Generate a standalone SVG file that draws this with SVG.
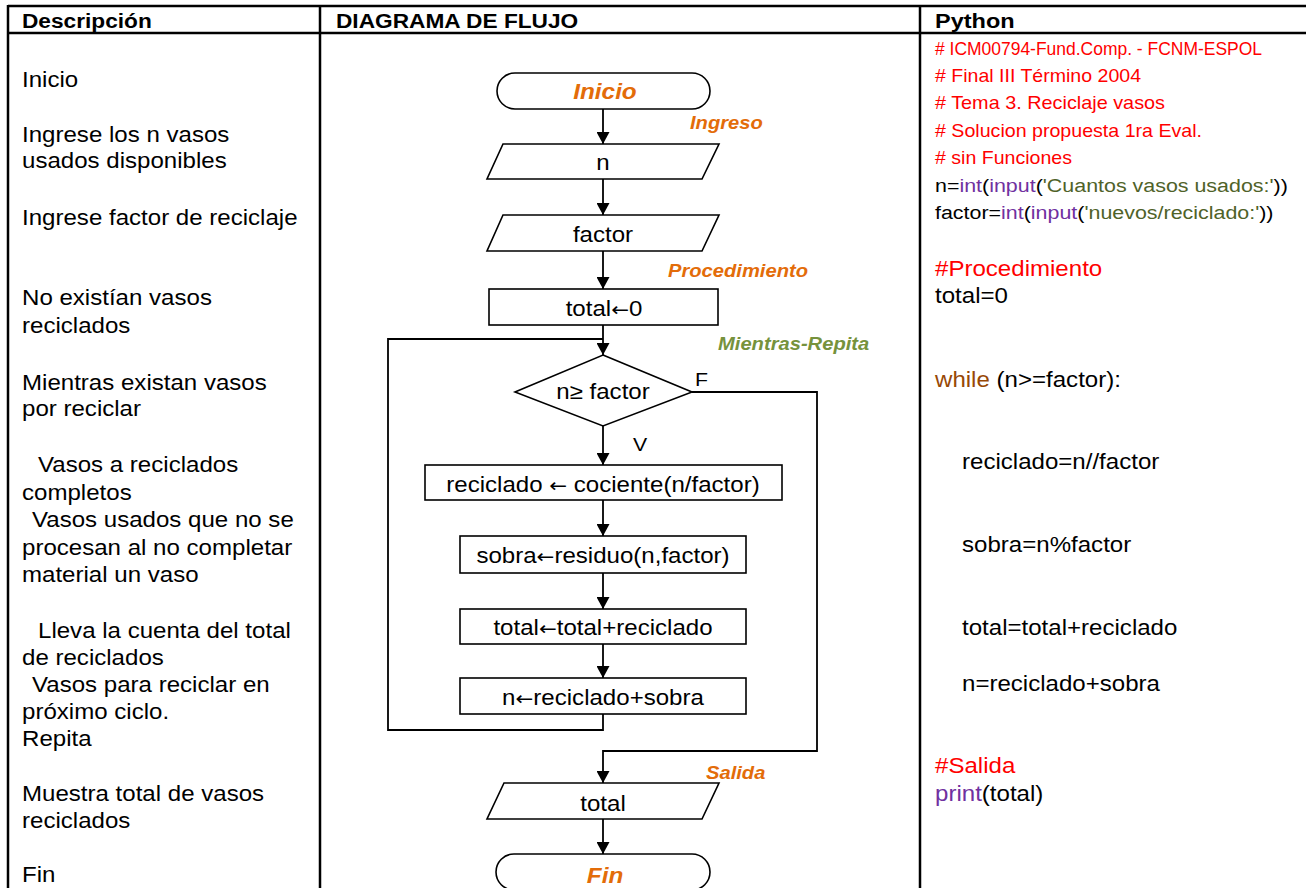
<svg xmlns="http://www.w3.org/2000/svg" width="1306" height="888" viewBox="0 0 1306 888">
<style>
text{font-family:"Liberation Sans",Arial,sans-serif;fill:#000}
.hd{font-size:21px;font-weight:bold}
.d{font-size:21.5px}
.c{font-size:21.5px}
.ar{font-family:"DejaVu Sans",sans-serif;font-size:19px}
.cm{font-size:18.6px;fill:#FF0000}
.cs{font-size:18.8px}
.py{font-size:21.5px}
.red{fill:#FF0000}
.pur{fill:#7030A0}
.grn{fill:#4F6228}
.brn{fill:#974806}
.or{font-weight:bold;font-style:italic;fill:#E36C09}
.lb{font-size:18px}
.gr{font-weight:bold;font-style:italic;fill:#76923C;font-size:18px}
.tl{font-size:22.5px}
.shape{fill:#fff;stroke:#000;stroke-width:1.6}
.conn{fill:none;stroke:#000;stroke-width:1.8}
.grid{stroke:#000;stroke-width:2.5;fill:none}
</style>
<defs>
<marker id="ah" markerUnits="userSpaceOnUse" markerWidth="13" markerHeight="13" refX="12" refY="6.5" orient="auto">
<path d="M0,0 L12,6.5 L0,13 z" fill="#000"/>
</marker>
</defs>
<rect x="0" y="0" width="1306" height="888" fill="#fff"/>

<g id="table">
<line class="grid" x1="8" y1="6" x2="1306" y2="6"/>
<line class="grid" x1="8" y1="33" x2="1306" y2="33"/>
<line class="grid" x1="8" y1="5" x2="8" y2="888"/>
<line class="grid" x1="320" y1="5" x2="320" y2="888"/>
<line class="grid" x1="920" y1="5" x2="920" y2="888"/>
<text class="hd" transform="matrix(1.08 0 0 1 22 28)">Descripción</text>
<text class="hd" transform="matrix(1.08 0 0 1 336 28)">DIAGRAMA DE FLUJO</text>
<text class="hd" transform="matrix(1.12 0 0 1 935 28)">Python</text>
</g>

<g id="descripcion">
<text class="d" transform="matrix(1.12 0 0 1 22 87)">Inicio</text>
<text class="d" transform="matrix(1.12 0 0 1 22 142)">Ingrese los n vasos</text>
<text class="d" transform="matrix(1.12 0 0 1 22 168)">usados disponibles</text>
<text class="d" transform="matrix(1.12 0 0 1 22 225)">Ingrese factor de reciclaje</text>
<text class="d" transform="matrix(1.12 0 0 1 22 305)">No existían vasos</text>
<text class="d" transform="matrix(1.12 0 0 1 22 333)">reciclados</text>
<text class="d" transform="matrix(1.12 0 0 1 22 390)">Mientras existan vasos</text>
<text class="d" transform="matrix(1.12 0 0 1 22 416)">por reciclar</text>
<text class="d" transform="matrix(1.12 0 0 1 38 472)">Vasos a reciclados</text>
<text class="d" transform="matrix(1.12 0 0 1 22 500)">completos</text>
<text class="d" transform="matrix(1.12 0 0 1 32 527)">Vasos usados que no se</text>
<text class="d" transform="matrix(1.12 0 0 1 22 555)">procesan al no completar</text>
<text class="d" transform="matrix(1.12 0 0 1 22 582)">material un vaso</text>
<text class="d" transform="matrix(1.12 0 0 1 38 638)">Lleva la cuenta del total</text>
<text class="d" transform="matrix(1.12 0 0 1 22 665)">de reciclados</text>
<text class="d" transform="matrix(1.12 0 0 1 32 692)">Vasos para reciclar en</text>
<text class="d" transform="matrix(1.12 0 0 1 22 719)">próximo ciclo.</text>
<text class="d" transform="matrix(1.12 0 0 1 22 746)">Repita</text>
<text class="d" transform="matrix(1.12 0 0 1 22 801)">Muestra total de vasos</text>
<text class="d" transform="matrix(1.12 0 0 1 22 828)">reciclados</text>
<text class="d" transform="matrix(1.12 0 0 1 22 882)">Fin</text>
</g>

<g id="connectors">
<line class="conn" x1="603" y1="109" x2="603" y2="144" marker-end="url(#ah)"/>
<line class="conn" x1="603" y1="179" x2="603" y2="215" marker-end="url(#ah)"/>
<line class="conn" x1="603" y1="251" x2="603" y2="289" marker-end="url(#ah)"/>
<line class="conn" x1="603" y1="325" x2="603" y2="355" marker-end="url(#ah)"/>
<polyline class="conn" points="603,714 603,730 388,730 388,339 603,339"/>
<line class="conn" x1="603" y1="426" x2="603" y2="465" marker-end="url(#ah)"/>
<line class="conn" x1="603" y1="500" x2="603" y2="536" marker-end="url(#ah)"/>
<line class="conn" x1="603" y1="573" x2="603" y2="609" marker-end="url(#ah)"/>
<line class="conn" x1="603" y1="644" x2="603" y2="678" marker-end="url(#ah)"/>
<polyline class="conn" points="692,392 817,392 817,751 603,751 603,783" marker-end="url(#ah)"/>
<line class="conn" x1="603" y1="819" x2="603" y2="854" marker-end="url(#ah)"/>
<text class="c" transform="matrix(1.12 0 0 1 695 386)" style="font-size:19px">F</text>
<text class="c" transform="matrix(1.12 0 0 1 633 451)" style="font-size:19px">V</text>
</g>

<g id="inicio">
<rect class="shape" x="497" y="73" width="213" height="36" rx="18" ry="18"/>
<text class="or tl" text-anchor="middle" transform="matrix(1.08 0 0 1 605 99)">Inicio</text>
</g>
<g id="lbl-ingreso"><text class="or lb" transform="matrix(1.12 0 0 1 690 129)">Ingreso</text></g>
<g id="in-n">
<polygon class="shape" points="503,144 719,144 702,179 487,179"/>
<text class="c" text-anchor="middle" transform="matrix(1.12 0 0 1 603 170)">n</text>
</g>
<g id="in-factor">
<polygon class="shape" points="503,215 719,215 702,251 487,251"/>
<text class="c" text-anchor="middle" transform="matrix(1.12 0 0 1 603 242)">factor</text>
</g>
<g id="lbl-proc"><text class="or lb" transform="matrix(1.12 0 0 1 668 277)">Procedimiento</text></g>
<g id="total0">
<rect class="shape" x="489" y="289" width="229" height="36"/>
<text class="c" text-anchor="middle" transform="matrix(1.12 0 0 1 604 316)">total<tspan class="ar">←</tspan>0</text>
</g>
<g id="lbl-mientras"><text class="gr" transform="matrix(1.12 0 0 1 718 350)">Mientras-Repita</text></g>
<g id="decision">
<polygon class="shape" points="603,355 692,392 603,426 515,392"/>
<text class="c" text-anchor="middle" transform="matrix(1.12 0 0 1 603 399)">n≥ factor</text>
</g>
<g id="reciclado">
<rect class="shape" x="425" y="465" width="357" height="35"/>
<text class="c" text-anchor="middle" transform="matrix(1.12 0 0 1 603 492)">reciclado <tspan class="ar">←</tspan> cociente(n/factor)</text>
</g>
<g id="sobra">
<rect class="shape" x="460" y="536" width="286" height="37"/>
<text class="c" text-anchor="middle" transform="matrix(1.12 0 0 1 603 563)">sobra<tspan class="ar">←</tspan>residuo(n,factor)</text>
</g>
<g id="total-acum">
<rect class="shape" x="460" y="609" width="286" height="35"/>
<text class="c" text-anchor="middle" transform="matrix(1.12 0 0 1 603 635)">total<tspan class="ar">←</tspan>total+reciclado</text>
</g>
<g id="n-update">
<rect class="shape" x="460" y="678" width="286" height="36"/>
<text class="c" text-anchor="middle" transform="matrix(1.12 0 0 1 603 705)">n<tspan class="ar">←</tspan>reciclado+sobra</text>
</g>
<g id="lbl-salida"><text class="or lb" transform="matrix(1.12 0 0 1 706 779)">Salida</text></g>
<g id="out-total">
<polygon class="shape" points="504,783 719,783 702,819 487,819"/>
<text class="c" text-anchor="middle" transform="matrix(1.12 0 0 1 603 811)">total</text>
</g>
<g id="fin">
<rect class="shape" x="496" y="854" width="214" height="36" rx="18" ry="18"/>
<text class="or tl" text-anchor="middle" transform="matrix(1.08 0 0 1 605 883)">Fin</text>
</g>

<g id="python">
<text class="cm" x="935" y="55" textLength="327" lengthAdjust="spacingAndGlyphs">#&#160;ICM00794-Fund.Comp. - FCNM-ESPOL</text>
<text class="cm" x="935" y="82" textLength="206" lengthAdjust="spacingAndGlyphs"># Final III Término 2004</text>
<text class="cm" x="935" y="109" textLength="230" lengthAdjust="spacingAndGlyphs"># Tema 3. Reciclaje vasos</text>
<text class="cm" x="935" y="137" textLength="267" lengthAdjust="spacingAndGlyphs"># Solucion propuesta 1ra Eval.</text>
<text class="cm" x="935" y="164" textLength="137" lengthAdjust="spacingAndGlyphs"># sin Funciones</text>
<text class="cs" transform="matrix(1.14 0 0 1 935 192)">n=<tspan class="pur">int</tspan>(<tspan class="pur">input</tspan>(<tspan class="grn">'Cuantos vasos usados:'</tspan>))</text>
<text class="cs" transform="matrix(1.14 0 0 1 935 219)">factor=<tspan class="pur">int</tspan>(<tspan class="pur">input</tspan>(<tspan class="grn">'nuevos/reciclado:'</tspan>))</text>
<text class="py red" transform="matrix(1.12 0 0 1 935 276)">#Procedimiento</text>
<text class="py" transform="matrix(1.12 0 0 1 935 303)">total=0</text>
<text class="py" transform="matrix(1.12 0 0 1 935 387)"><tspan class="brn">while</tspan> (n&gt;=factor):</text>
<text class="py" transform="matrix(1.12 0 0 1 962 469)">reciclado=n//factor</text>
<text class="py" transform="matrix(1.12 0 0 1 962 552)">sobra=n%factor</text>
<text class="py" transform="matrix(1.12 0 0 1 962 635)">total=total+reciclado</text>
<text class="py" transform="matrix(1.12 0 0 1 962 691)">n=reciclado+sobra</text>
<text class="py red" transform="matrix(1.12 0 0 1 935 773)">#Salida</text>
<text class="py" transform="matrix(1.12 0 0 1 935 801)"><tspan class="pur">print</tspan>(total)</text>
</g>
</svg>
